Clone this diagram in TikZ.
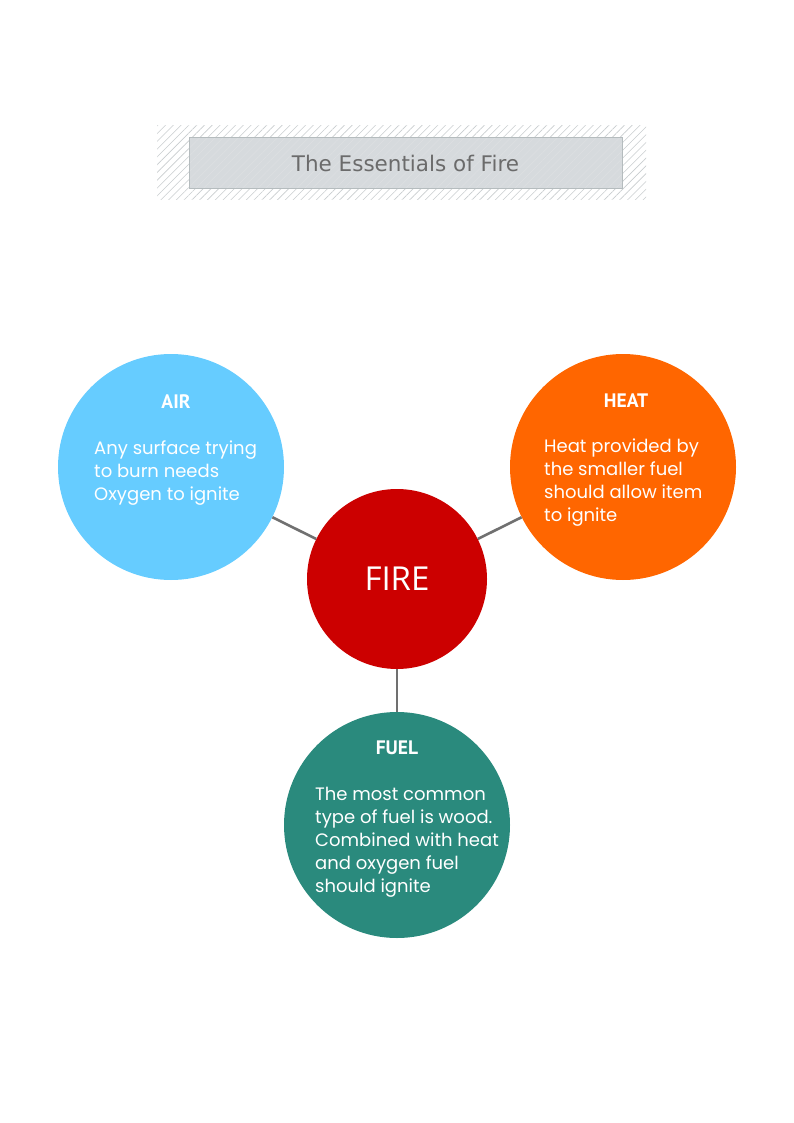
\documentclass[tikz,border=0pt]{standalone}
\usepackage{fontspec}
\setmainfont{Poppins}
\newfontfamily\headfont{PT Sans}
\newfontfamily\titlefont{DejaVu Sans}
\newfontfamily\firefont{Open Sans}
\usetikzlibrary{patterns.meta}
\definecolor{airc}{HTML}{66CCFF}
\definecolor{heatc}{HTML}{FF6600}
\definecolor{fuelc}{HTML}{2A8A7D}
\definecolor{firec}{HTML}{CC0000}
\definecolor{linkc}{HTML}{707070}
\definecolor{titlefill}{HTML}{D6DADD}
\definecolor{titleedge}{HTML}{B5BCBE}
\definecolor{hatchc}{HTML}{C8CCCE}
\definecolor{titletext}{HTML}{6B6B6B}
\tikzset{
  x=1pt, y=-1pt,
  bubble/.style={circle, draw=none, minimum size=226pt, inner sep=0pt},
  head/.style={text=white, font=\headfont\bfseries\fontsize{19.5}{22}\selectfont, anchor=center},
  body/.style={text=white, font=\fontsize{18}{23}\selectfont, align=left, anchor=north west, inner sep=0pt},
  link/.style={draw=linkc, line width=2.6pt},
}
\begin{document}
\begin{tikzpicture}
\useasboundingbox (0,0) rectangle (794,1123);
% title
\path[pattern={Lines[angle=45,distance=5.5pt,line width=0.6pt]}, pattern color=hatchc] (157,126) rectangle (646,200);
\fill[white] (189,137) rectangle (622,188);
\fill[titlefill] (189,137) rectangle (622,188);
\path[pattern={Lines[angle=45,distance=5.5pt,line width=0.5pt]}, pattern color=hatchc!60!white] (189,137) rectangle (622,188);
\draw[titleedge, line width=0.8pt] (189,137) rectangle (622,188);
\node[text=titletext, font=\titlefont\fontsize{21.5}{24}\selectfont] (title) at (405.5,163) {The Essentials of Fire};
% circles
\node[bubble, fill=firec, minimum size=180pt] (fire) at (397,579) {};
\node[bubble, fill=airc] (air) at (171,467) {};
\node[bubble, fill=heatc] (heat) at (623,467) {};
\node[bubble, fill=fuelc] (fuel) at (397,825) {};
\draw[link] (fire) -- (air);
\draw[link] (fire) -- (heat);
\draw[link] (fire) -- (fuel);
\node[text=white, font=\firefont\fontsize{33}{36}\selectfont] (firet) at (fire) {FIRE};
% labels
\node[head] (airh) at (176,402) {AIR};
\node[head] (heath) at (626,401) {HEAT};
\node[head] (fuelh) at (397,748) {FUEL};
\node[body] (airb) at (94,441) {Any surface trying\\to burn needs\\Oxygen to ignite};
\node[body] (heatb) at (544,439) {Heat provided by\\the smaller fuel\\should allow item\\to ignite};
\node[body] (fuelb) at (315,787) {The most common\\type of fuel is wood.\\Combined with heat\\and oxygen fuel\\should ignite};
\end{tikzpicture}
\end{document}
